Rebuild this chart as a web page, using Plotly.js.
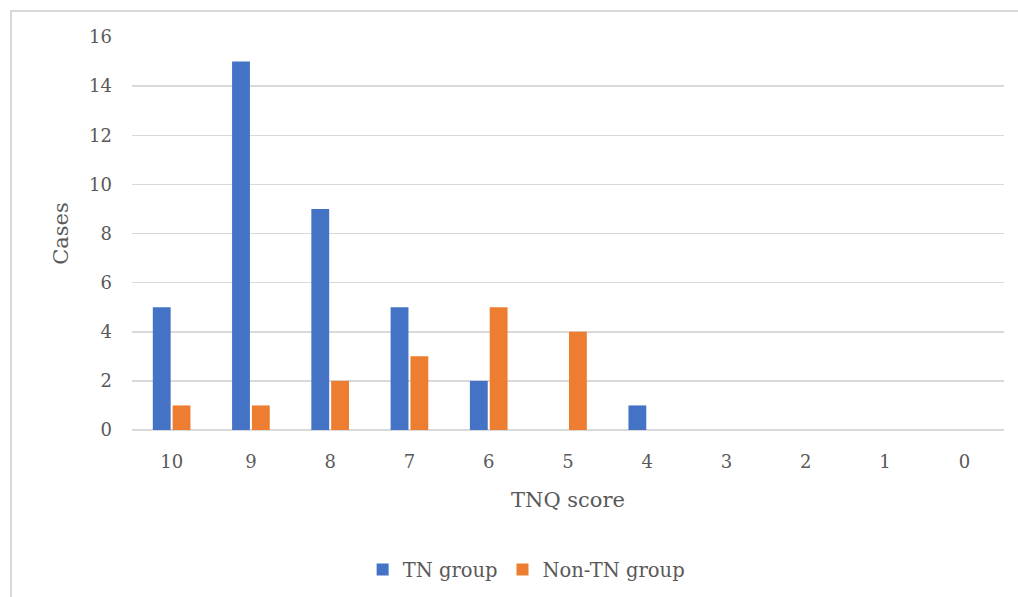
<!DOCTYPE html>
<html>
<head>
<meta charset="utf-8">
<script src="https://cdn.plot.ly/plotly-3.0.1.min.js"></script>
<style>
html,body{margin:0;padding:0;background:#fff;overflow:hidden;}
#frame{position:absolute;left:10px;top:10px;width:1100px;height:700px;border:2px solid #d9d9d9;box-sizing:border-box;}
#chart{position:absolute;left:0;top:0;width:1018px;height:597px;}
</style>
</head>
<body>
<div id="frame"></div>
<div id="chart"></div>
<script>
const categories = ["10","9","8","7","6","5","4","3","2","1","0"];
const tnGroup = [5,15,9,5,2,0,1,0,0,0,0];
const nonTnGroup = [1,1,2,3,5,4,0,0,0,0,0];
const yTicks = [0,2,4,6,8,10,12,14,16];

const fontFam = "'DejaVu Serif', serif";
const textColor = "#595959";

const traces = [
  {type:"bar", name:"TN group", x:categories, y:tnGroup, marker:{color:"#4472c4"}},
  {type:"bar", name:"Non-TN group", x:categories, y:nonTnGroup, marker:{color:"#ed7d31"}}
];

const layout = {
  width:1018, height:597,
  margin:{l:132, r:14, t:37, b:167, autoexpand:false},
  paper_bgcolor:"rgba(0,0,0,0)", plot_bgcolor:"rgba(0,0,0,0)",
  font:{family:fontFam, color:textColor, size:18},
  barmode:"group", bargap:0.5, bargroupgap:0.1,
  showlegend:true,
  legend:{orientation:"h", x:0.452, xanchor:"center", y:-0.356, yanchor:"middle",
          font:{size:19.5, color:textColor}, itemwidth:30, traceorder:"normal"},
  xaxis:{type:"category", categoryorder:"array", categoryarray:categories,
         showgrid:false, showline:false, zeroline:false, ticks:"", automargin:false,
         ticklabelstandoff:19, tickfont:{size:18},
         title:{text:"TNQ score", font:{size:21}, standoff:21}},
  yaxis:{range:[0,16], tickvals:yTicks, showgrid:true, gridcolor:"#d9d9d9", gridwidth:1.5,
         zeroline:true, zerolinecolor:"#d9d9d9", zerolinewidth:1.5, showline:false, ticks:"",
         automargin:false, ticklabelstandoff:19, tickfont:{size:18},
         title:{text:"Cases", font:{size:21}, standoff:14}}
};

Plotly.newPlot("chart", traces, layout, {displayModeBar:false, staticPlot:true});
</script>
</body>
</html>
